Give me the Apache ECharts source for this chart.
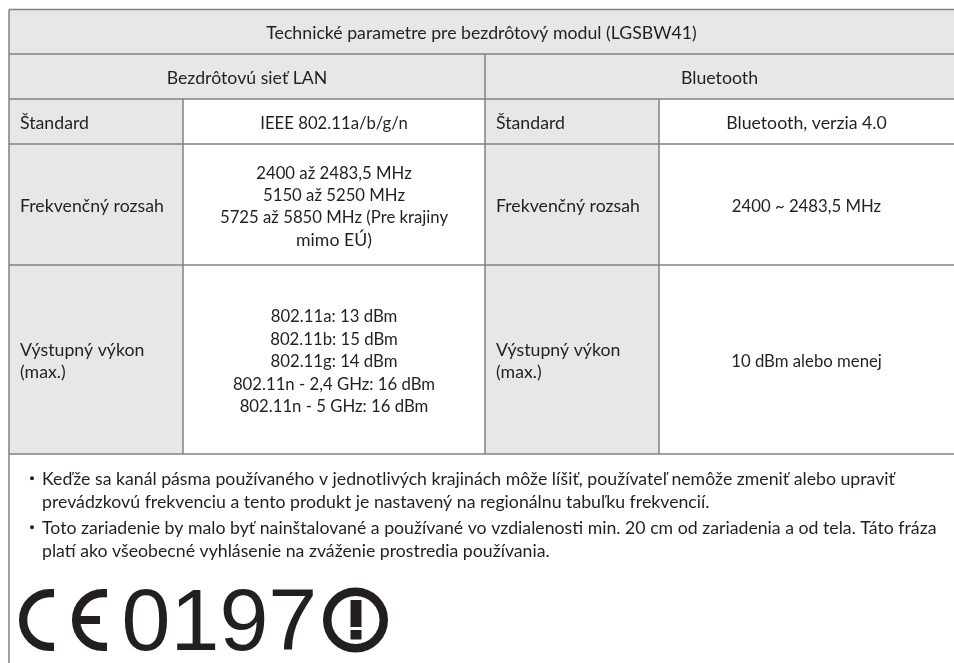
<!DOCTYPE html>
<html><head><meta charset="utf-8">
<style>html,body{margin:0;padding:0;background:#fff}#c{width:954px;height:663px}</style>
<script src="https://cdn.jsdelivr.net/npm/echarts@6/dist/echarts.min.js"></script>
</head><body><div id="c"></div>
<script>
const tableTitle = "Technické parametre pre bezdrôtový modul (LGSBW41)";
const sectionHeads = ["Bezdrôtovú sieť LAN", "Bluetooth"];
const rowLabels = [["Štandard"], ["Frekvenčný rozsah"], ["Výstupný výkon", "(max.)"]];
const wlanValues = [["IEEE 802.11a/b/g/n"],
  ["2400 až 2483,5 MHz", "5150 až 5250 MHz", "5725 až 5850 MHz (Pre krajiny", "mimo EÚ)"],
  ["802.11a: 13 dBm", "802.11b: 15 dBm", "802.11g: 14 dBm", "802.11n - 2,4 GHz: 16 dBm", "802.11n - 5 GHz: 16 dBm"]];
const btValues = [["Bluetooth, verzia 4.0"], ["2400 ~ 2483,5 MHz"], ["10 dBm alebo menej"]];
const notes = [["Keďže sa kanál pásma používaného v jednotlivých krajinách môže líšiť, používateľ nemôže zmeniť alebo upraviť",
  "prevádzkovú frekvenciu a tento produkt je nastavený na regionálnu tabuľku frekvencií."],
  ["Toto zariadenie by malo byť nainštalované a používané vo vzdialenosti min. 20 cm od zariadenia a od tela. Táto fráza",
  "platí ako všeobecné vyhlásenie na zváženie prostredia používania."]];
const certNumber = "0197";

const rowEdges = [9.5, 54, 99, 144, 265, 454];
const colEdges = [9, 183, 485, 659, 954];
const INK = "#231f20", RULE = "#808285", FILL = "#e6e7e8";
const FONT = "Lato", SIZE = 17.4, SX = 1.018, SX_NUM = 0.962, LH = 22.4, PAD = 11;

const items = [];
const rect = (x0, y0, x1, y1, fill) => items.push({k: "rect", x0, y0, x1, y1, fill});
const line = (x0, y0, x1, y1) => items.push({k: "line", x0, y0, x1, y1});
const text = (t, x, y, align, sx) => items.push({k: "text", t, x, y, align, sx: sx || SX});
const block = (lines, x, cy, align, numeric) => lines.forEach((t, i) =>
  text(t, x, cy + 2.1 + (i - (lines.length - 1) / 2) * LH, align, numeric && /\d{2}/.test(t) ? SX_NUM : SX));

// fills
rect(colEdges[0], rowEdges[0], colEdges[4], rowEdges[2], FILL);
rect(colEdges[0], rowEdges[2], colEdges[1], rowEdges[5], FILL);
rect(colEdges[2], rowEdges[2], colEdges[3], rowEdges[5], FILL);
// rules
rowEdges.forEach(y => line(colEdges[0], y, colEdges[4], y));
line(colEdges[0], rowEdges[0], colEdges[0], 663);
line(colEdges[1], rowEdges[2], colEdges[1], rowEdges[5]);
line(colEdges[2], rowEdges[1], colEdges[2], rowEdges[5]);
line(colEdges[3], rowEdges[2], colEdges[3], rowEdges[5]);
// texts
const mid = (a, b) => (a + b) / 2;
block([tableTitle], mid(colEdges[0], colEdges[4]), mid(rowEdges[0], rowEdges[1]), "center");
block([sectionHeads[0]], mid(colEdges[0], colEdges[2]), mid(rowEdges[1], rowEdges[2]), "center");
block([sectionHeads[1]], mid(colEdges[2], colEdges[4]), mid(rowEdges[1], rowEdges[2]), "center");
rowLabels.forEach((lab, i) => {
  const cy = mid(rowEdges[i + 2], rowEdges[i + 3]);
  block(lab, colEdges[0] + PAD, cy, "left");
  block(lab, colEdges[2] + PAD, cy, "left");
  block(wlanValues[i], mid(colEdges[1], colEdges[2]), cy, "center", true);
  block(btValues[i], mid(colEdges[3], colEdges[4]), cy, "center", true);
});
// notes
const noteY = [479.1, 528.1];
notes.forEach((n, i) => {
  items.push({k: "dot", x: 32, y: noteY[i] - 0.8});
  n.forEach((t, j) => text(t, 42, noteY[i] + j * 23.3, "left"));
});
// CE mark + number + alert symbol
items.push({k: "ce", x: 50, tip: 54, y: 620});
items.push({k: "ce", x: 103, tip: 107, y: 620, bar: [80, 100]});
items.push({k: "big", t: certNumber, x: 121.5, y: 625.5});
items.push({k: "alert", x: 355.5, y: 620});

const chart = echarts.init(document.getElementById("c"), null, {renderer: "canvas"});
function renderItem(params, api) {
  const d = items[params.dataIndex];
  const P = (x, y) => api.coord([x, y]);
  if (d.k === "rect") {
    const a = P(d.x0, d.y0), b = P(d.x1, d.y1);
    return {type: "rect", shape: {x: a[0], y: a[1], width: b[0] - a[0], height: b[1] - a[1]}, style: {fill: d.fill}};
  }
  if (d.k === "line") {
    const a = P(d.x0, d.y0), b = P(d.x1, d.y1);
    return {type: "line", shape: {x1: a[0], y1: a[1], x2: b[0], y2: b[1]}, style: {stroke: RULE, lineWidth: 1.5}};
  }
  if (d.k === "text") {
    const a = P(d.x, d.y);
    return {type: "text", x: a[0], y: a[1], scaleX: d.sx, style: {text: d.t, x: 0, y: 0, align: d.align, verticalAlign: "middle",
      font: SIZE + "px " + FONT, fill: INK}};
  }
  if (d.k === "dot") {
    const a = P(d.x, d.y);
    return {type: "circle", shape: {cx: a[0], cy: a[1], r: 2}, style: {fill: INK}};
  }
  if (d.k === "big") {
    const a = P(d.x, d.y);
    return {type: "text", x: a[0], y: a[1], style: {text: d.t, x: 0, y: 0, align: "left", verticalAlign: "middle",
      font: "88px 'Liberation Sans'", fill: INK}};
  }
  if (d.k === "ce") {
    const a = P(d.x, d.y), sw = 8.3, r = 31 - sw / 2;
    const ch = [
      {type: "arc", shape: {cx: a[0], cy: a[1], r, startAngle: Math.PI / 2, endAngle: Math.PI * 1.5, clockwise: true}, style: {stroke: INK, fill: null, lineWidth: sw}},
      {type: "line", shape: {x1: a[0], y1: a[1] - r, x2: d.tip, y2: a[1] - r}, style: {stroke: INK, lineWidth: sw}},
      {type: "line", shape: {x1: a[0], y1: a[1] + r, x2: d.tip, y2: a[1] + r}, style: {stroke: INK, lineWidth: sw}}];
    if (d.bar) ch.push({type: "rect", shape: {x: d.bar[0], y: a[1] - 4, width: d.bar[1] - d.bar[0], height: 8}, style: {fill: INK}});
    return {type: "group", children: ch};
  }
  if (d.k === "alert") {
    const a = P(d.x, d.y), sw = 8.5;
    return {type: "group", children: [
      {type: "circle", shape: {cx: a[0], cy: a[1], r: 32.5 - sw / 2}, style: {stroke: INK, fill: "#fff", lineWidth: sw}},
      {type: "rect", shape: {x: a[0] - 5, y: a[1] - 20, width: 11, height: 27}, style: {fill: INK}},
      {type: "rect", shape: {x: a[0] - 5, y: a[1] + 10, width: 11, height: 9.5}, style: {fill: INK}}]};
  }
}
chart.setOption({
  animation: false,
  grid: {left: 0, right: 0, top: 0, bottom: 0},
  xAxis: {type: "value", min: 0, max: 954, show: false},
  yAxis: {type: "value", min: 0, max: 663, inverse: true, show: false},
  series: [{type: "custom", coordinateSystem: "cartesian2d", clip: false, silent: true,
    data: items.map((d, i) => [d.x0 ?? d.x, d.y0 ?? d.y]), renderItem}]
});
</script></body></html>
